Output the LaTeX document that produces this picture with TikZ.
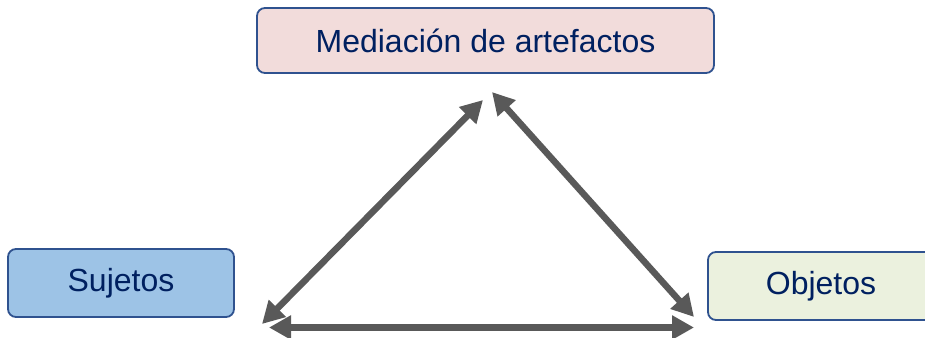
\documentclass[tikz,border=0pt]{standalone}
\usepackage{fontspec}
\setmainfont{Liberation Sans}
\usepackage{tikz}
\usetikzlibrary{arrows.meta}
\definecolor{BoxLine}{HTML}{2F528F}
\definecolor{TextBlue}{HTML}{002060}
\definecolor{ArrowGrey}{HTML}{595959}
\definecolor{PinkFill}{HTML}{F2DCDB}
\definecolor{BlueFill}{HTML}{9DC3E6}
\definecolor{GreenFill}{HTML}{EBF1DE}
\pgfdeclarelayer{edgelayer}
\pgfdeclarelayer{nodelayer}
\pgfsetlayers{edgelayer,nodelayer,main}
\tikzstyle{none}=[inner sep=0pt]
\tikzstyle{box}=[rectangle,rounded corners=8pt,draw=BoxLine,line width=1.8pt,text=TextBlue,font=\fontsize{32}{38}\selectfont,inner sep=0pt]
\tikzstyle{pinkbox}=[box,fill=PinkFill,minimum width=457pt,minimum height=65pt]
\tikzstyle{bluebox}=[box,fill=BlueFill,minimum width=226pt,minimum height=68pt]
\tikzstyle{greenbox}=[box,fill=GreenFill,minimum width=226pt,minimum height=68pt]
\tikzstyle{twoway}=[{Triangle[length=22pt,width=23pt]}-{Triangle[length=22pt,width=23pt]},draw=ArrowGrey,line width=6.5pt]

\begin{document}
\begin{tikzpicture}[x=1pt,y=-1pt]
	\useasboundingbox (0,0) rectangle (925,337);
	\begin{pgfonlayer}{nodelayer}
		\node [style=pinkbox] (0) at (485.5, 40.5) {Mediación de artefactos};
		\node [style=bluebox] (1) at (121, 283) {Sujetos};
		\node [style=greenbox] (2) at (821, 286) {Objetos};
		\node [style=none] (3) at (483, 100) {};
		\node [style=none] (4) at (262, 324) {};
		\node [style=none] (5) at (492, 92) {};
		\node [style=none] (6) at (694, 317) {};
		\node [style=none] (7) at (269, 327.5) {};
		\node [style=none] (8) at (694, 327.5) {};
	\end{pgfonlayer}
	\begin{pgfonlayer}{edgelayer}
		\draw [style=twoway] (3.center) to (4.center);
		\draw [style=twoway] (5.center) to (6.center);
		\draw [style=twoway] (7.center) to (8.center);
	\end{pgfonlayer}
\end{tikzpicture}
\end{document}
